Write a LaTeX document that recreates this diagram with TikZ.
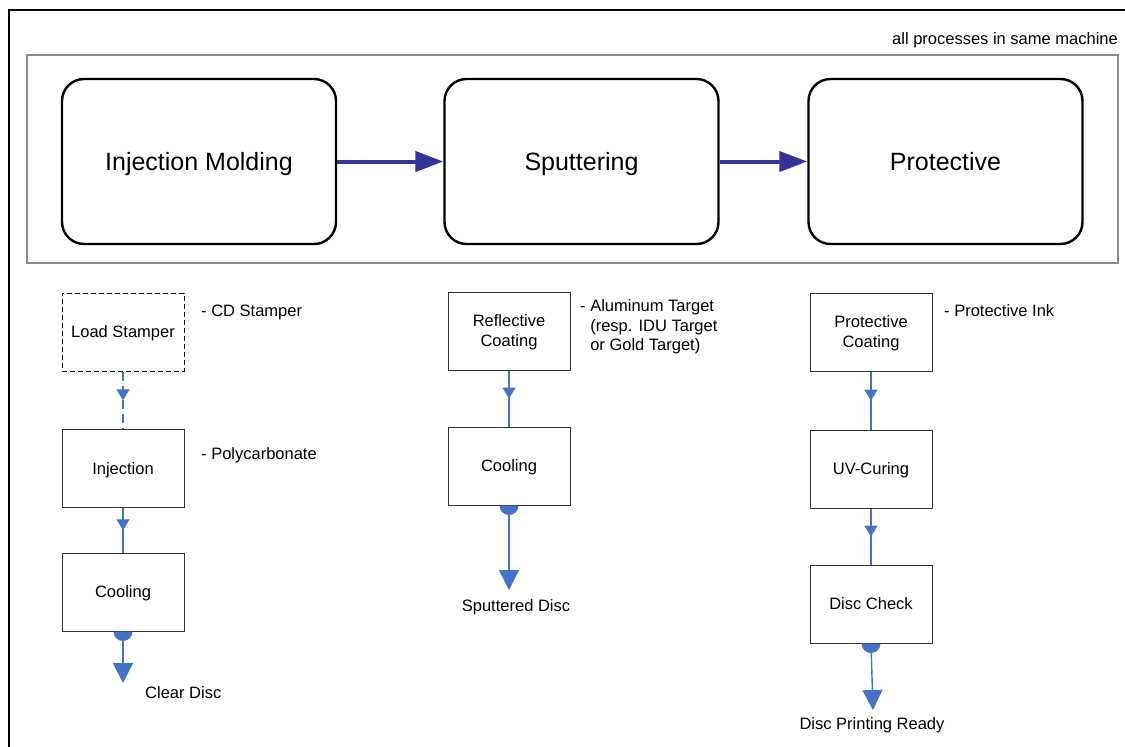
\documentclass[tikz,border=0pt]{standalone}
\usepackage{fontspec}
\setmainfont{Liberation Sans}
\usetikzlibrary{arrows.meta,decorations.markings}
\definecolor{procblue}{HTML}{333399}
\definecolor{flowblue}{HTML}{4472C4}
\definecolor{framegray}{HTML}{8A8A8A}
\tikzset{
  stage/.style={draw, rounded corners=22pt, line width=2.4pt, minimum width=274pt,
    minimum height=165pt, text depth=0pt, font=\fontsize{25}{30}\selectfont},
  stepbox/.style={draw=black!80, line width=1pt, minimum width=122pt, minimum height=78pt,
    align=center, text depth=0pt, font=\fontsize{16.5}{20}\selectfont},
  note/.style={font=\fontsize{16.5}{19.5}\selectfont, inner sep=0pt},
  stagearrow/.style={draw=procblue, line width=4pt, -{Triangle[length=28pt,width=20pt]}},
  midflow/.style={draw=flowblue, line width=1.4pt, decoration={markings,
    mark=at position 0.5 with {\arrow{Triangle[length=11pt,width=13pt]}}}, postaction={decorate}},
  outflow/.style={draw=flowblue, line width=1.4pt, -{Triangle[length=20pt,width=20pt]}}
}
\begin{document}
\begin{tikzpicture}[x=1pt,y=-1pt]
\useasboundingbox (0,0) rectangle (1125,747);
\draw [line width=2pt] (9,747) -- (9,10) -- (1125,10); %outer frame
\draw [framegray, line width=2pt] (27,55) rectangle (1118,263); %same machine
\node[note, anchor=east] (machine) at (1118,40) {all processes in same machine};

\node[stage] (molding) at (199,161.5) {Injection Molding};
\node[stage] (sputter) at (581.5,161.5) {Sputtering};
\node[stage] (protect) at (945.5,161.5) {Protective};
\draw [stagearrow] (molding.east) -- (sputter.west);
\draw [stagearrow] (sputter.east) -- (protect.west);

%injection molding
\node[stepbox, draw=black, dash pattern=on 5pt off 3pt] (stamper) at (123,332) {Load Stamper};
\node[stepbox] (inject) at (123,468.5) {Injection};
\node[stepbox] (coolA) at (123,592) {Cooling};
\draw [midflow, dash pattern=on 9pt off 5pt] (stamper.south) -- (inject.north);
\draw [midflow] (inject.south) -- (coolA.north);
\coordinate (clearend) at (123,683);
\fill [flowblue] (coolA.south) ++(-9.5,0) arc[start angle=180, end angle=0, radius=9.5] -- cycle;
\draw [outflow] (coolA.south) -- (clearend);
\node[note, anchor=west] (clear) at (145,693) {Clear Disc};
\node[note, anchor=west] (cdst) at (201,312) {- CD Stamper};
\node[note, anchor=west] (poly) at (201,455) {- Polycarbonate};

%sputtering
\node[stepbox] (reflect) at (509,331) {Reflective\\Coating};
\node[stepbox] (coolB) at (509,466) {Cooling};
\draw [midflow] (reflect.south) -- (coolB.north);
\coordinate (sputend) at (509,590);
\fill [flowblue] (coolB.south) ++(-9.5,0) arc[start angle=180, end angle=0, radius=9.5] -- cycle;
\draw [outflow] (coolB.south) -- (sputend);
\node[note] (sputdisc) at (516,607) {Sputtered Disc};
\node[note, anchor=west, align=left] (target) at (580,327)
  {- Aluminum Target\\\phantom{- }(resp. IDU Target\\\phantom{- }or Gold Target)};

%protective
\node[stepbox] (pcoat) at (871,332) {Protective\\Coating};
\node[stepbox] (uvcure) at (871,469) {UV-Curing};
\node[stepbox] (check) at (871,604) {Disc Check};
\draw [midflow] (pcoat.south) -- (uvcure.north);
\draw [midflow] (uvcure.south) -- (check.north);
\coordinate (readyend) at (873,710);
\fill [flowblue] (check.south) ++(-9.5,0) arc[start angle=180, end angle=0, radius=9.5] -- cycle;
\draw [outflow] (check.south) -- (readyend);
\node[note] (ready) at (872,725) {Disc Printing Ready};
\node[note, anchor=west] (ink) at (944,311) {- Protective Ink};
\end{tikzpicture}
\end{document}
